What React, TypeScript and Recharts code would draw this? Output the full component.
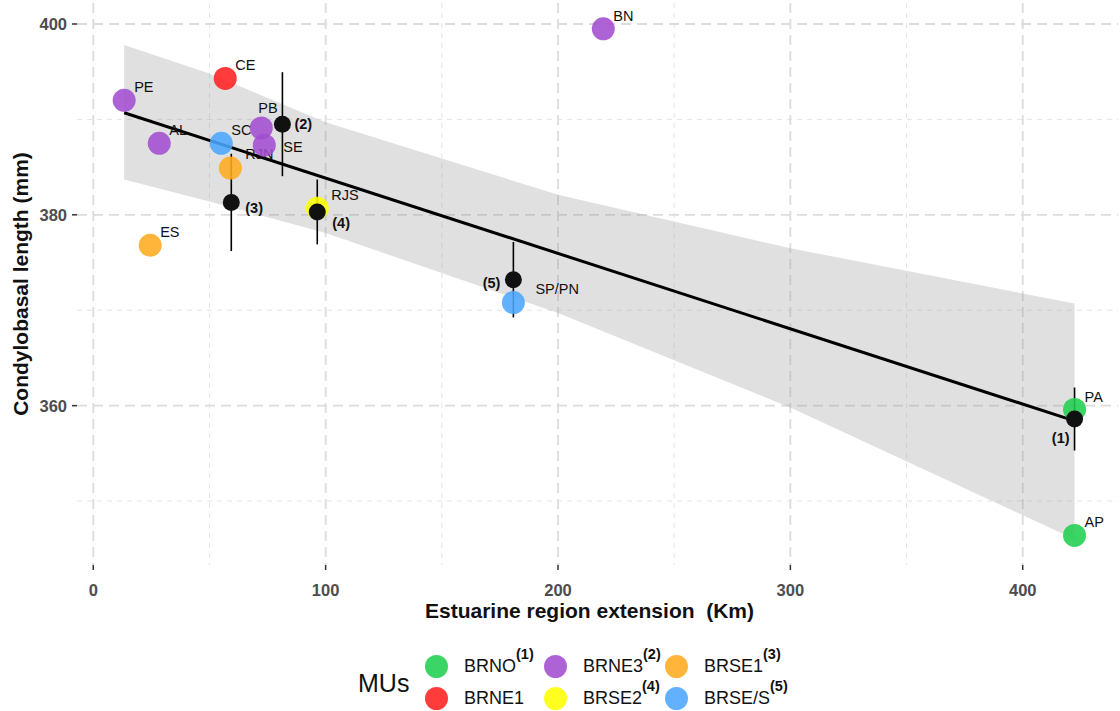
import React from "react";
import {
  ComposedChart,
  Area,
  Line,
  Scatter,
  XAxis,
  YAxis,
  CartesianGrid,
  ErrorBar,
  Label,
} from "recharts";

// sampling sites (colored dots)
const siteNames = ["PE", "CE", "AL", "SC", "RJN", "ES", "PB", "SE", "RJS", "SP/PN", "BN", "PA", "AP"];
const siteKm = [13.3, 56.8, 28.4, 55.1, 59.0, 24.5, 72.3, 73.6, 96.4, 180.8, 219.5, 422.3, 422.3];
const siteLength = [392.0, 394.3, 387.5, 387.5, 384.9, 376.8, 389.1, 387.3, 380.7, 370.8, 399.5, 359.6, 346.4];
const siteMU = ["BRNE3", "BRNE1", "BRNE3", "BRSE/S", "BRSE1", "BRSE1", "BRNE3", "BRNE3", "BRSE2", "BRSE/S", "BRNE3", "BRNO", "BRNO"];

// management units (legend order, column by column)
const muNames = ["BRNO", "BRNE1", "BRNE3", "BRSE2", "BRSE1", "BRSE/S"];
const muNotes = ["(1)", "", "(2)", "(4)", "(3)", "(5)"];
const muColors = ["#1fcf4f", "#ff2020", "#a24dcf", "#ffff00", "#ffaa1f", "#4ca6ff"];

// MU means with sd
const meanLabels = ["(1)", "(2)", "(3)", "(4)", "(5)"];
const meanKm = [422.3, 81.4, 59.4, 96.4, 180.8];
const meanLength = [358.6, 389.5, 381.3, 380.3, 373.2];
const meanSD = [3.3, 5.45, 5.1, 3.4, 3.95];

// linear fit and its confidence band
const fitKm = [13.3, 422.3];
const fitLength = [390.7, 358.4];
const bandKm = [13.3, 50, 100, 200, 300, 422.3];
const bandLow = [383.7, 381.4, 378.1, 369.7, 359.8, 346.0];
const bandHigh = [397.8, 394.8, 389.7, 382.1, 376.5, 370.7];

const xTicks = [0, 100, 200, 300, 400];
const xMinor = [50, 150, 250, 350];
const yTicks = [360, 380, 400];
const yMinor = [350, 370, 390];

const sites = siteNames.map((name, i) => ({
  name,
  x: siteKm[i],
  y: siteLength[i],
  color: muColors[muNames.indexOf(siteMU[i])],
}));
const means = meanLabels.map((name, i) => ({ name, x: meanKm[i], y: meanLength[i], sd: meanSD[i] }));
const fit = fitKm.map((x, i) => ({ x, y: fitLength[i] }));
const band = bandKm.map((x, i) => ({ x, band: [bandLow[i], bandHigh[i]] }));

// label nudges [dx, dy, anchor]
const siteNudge: Record<string, [number, number]> = {
  PB: [-3, -20],
  RJN: [15, -14],
  SE: [19, 2],
  RJS: [14, -13],
  "SP/PN": [22, -14],
};
const meanNudge: Record<string, [number, number, string]> = {
  "(1)": [-5, 19, "end"],
  "(2)": [12, 0, "start"],
  "(3)": [14, 6, "start"],
  "(4)": [15, 11, "start"],
  "(5)": [-13, 3, "end"],
};

const font = "'Liberation Sans', Arial, sans-serif";

const SiteDot = (props: any) => {
  const { cx, cy, payload } = props;
  const [dx, dy] = siteNudge[payload.name] || [10, -13];
  return (
    <g>
      <circle cx={cx} cy={cy} r={11.5} fill={payload.color} fillOpacity={0.88} />
      <text x={cx + dx} y={cy + dy} dy="0.35em" fontSize={14.5} fill="#111" fontFamily={font}>
        {payload.name}
      </text>
    </g>
  );
};

const MeanDot = (props: any) => {
  const { cx, cy, payload } = props;
  const [dx, dy, anchor] = meanNudge[payload.name];
  return (
    <g>
      <circle cx={cx} cy={cy} r={8.5} fill="#111" />
      <text
        x={cx + dx}
        y={cy + dy}
        dy="0.35em"
        textAnchor={anchor as any}
        fontSize={14.5}
        fontWeight="bold"
        fill="#111"
        fontFamily={font}
      >
        {payload.name}
      </text>
    </g>
  );
};

const legendCols = [436, 555, 676];
const legendRows = [666, 698];

export default function App() {
  return (
    <div
      style={{
        position: "absolute",
        left: 0,
        top: 0,
        width: 1120,
        height: 711,
        background: "#fff",
        fontFamily: font,
        overflow: "hidden",
      }}
    >
      <ComposedChart width={1120} height={630} margin={{ top: 3, right: 2, bottom: 0, left: 0 }}>
        <CartesianGrid
          verticalValues={xMinor}
          horizontalValues={yMinor}
          stroke="#e4e4e4"
          strokeWidth={1}
          strokeDasharray="5 5"
        />
        <CartesianGrid
          verticalValues={xTicks}
          horizontalValues={yTicks}
          stroke="#dcdcdc"
          strokeWidth={1.8}
          strokeDasharray="10 6"
        />
        <XAxis
          type="number"
          dataKey="x"
          domain={[-7, 441]}
          ticks={xTicks}
          allowDataOverflow
          axisLine={false}
          tickLine={{ stroke: "#333", strokeWidth: 1.5 }}
          tickSize={5}
          tickMargin={14}
          height={65}
          tick={{ fill: "#4d4d4d", fontSize: 16.5, fontWeight: "bold", fontFamily: font }}
        >
          <Label
            content={(p: any) => {
              const vb = p.viewBox;
              return (
                <text
                  x={vb.x + vb.width / 2 - 8}
                  y={vb.y + 46}
                  dy="0.35em"
                  textAnchor="middle"
                  fontSize={21}
                  fontWeight="bold"
                  fill="#111"
                  fontFamily={font}
                >
                  {"Estuarine region extension\u00a0\u00a0(Km)"}
                </text>
              );
            }}
          />
        </XAxis>
        <YAxis
          type="number"
          domain={[343.3, 402.2]}
          ticks={yTicks}
          allowDataOverflow
          width={77}
          axisLine={false}
          tickLine={{ stroke: "#333", strokeWidth: 1.5 }}
          tickSize={5}
          tickMargin={5}
          tick={{ fill: "#4d4d4d", fontSize: 16.5, fontWeight: "bold", fontFamily: font }}
        >
          <Label
            content={(p: any) => {
              const vb = p.viewBox;
              const x = vb.x + 21;
              const y = vb.y + vb.height / 2;
              return (
                <text
                  x={x}
                  y={y}
                  dy="0.35em"
                  transform={`rotate(-90 ${x} ${y})`}
                  textAnchor="middle"
                  fontSize={21}
                  fontWeight="bold"
                  fill="#111"
                  fontFamily={font}
                >
                  Condylobasal length (mm)
                </text>
              );
            }}
          />
        </YAxis>
        <Area
          data={band}
          dataKey="band"
          type="linear"
          stroke="none"
          fill="#999999"
          fillOpacity={0.3}
          isAnimationActive={false}
        />
        <Scatter data={sites} dataKey="y" shape={SiteDot} isAnimationActive={false} />
        <Line
          data={fit}
          dataKey="y"
          type="linear"
          stroke="#000"
          strokeWidth={3}
          dot={false}
          activeDot={false}
          isAnimationActive={false}
        />
        <Scatter data={means} dataKey="y" shape={MeanDot} isAnimationActive={false}>
          <ErrorBar dataKey="sd" direction="y" width={0} stroke="#000" strokeWidth={1.6} isAnimationActive={false} />
        </Scatter>
      </ComposedChart>

      {/* legend */}
      <div
        style={{
          position: "absolute",
          left: 358,
          top: 683,
          transform: "translateY(-50%)",
          fontSize: 25,
          color: "#111",
          lineHeight: 1,
        }}
      >
        MUs
      </div>
      {muNames.map((name, i) => {
        const cx = legendCols[Math.floor(i / 2)];
        const cy = legendRows[i % 2];
        return (
          <React.Fragment key={name}>
            <div
              style={{
                position: "absolute",
                left: cx - 11.5,
                top: cy - 11.5,
                width: 23,
                height: 23,
                borderRadius: "50%",
                background: muColors[i],
                opacity: 0.88,
              }}
            />
            <div
              style={{
                position: "absolute",
                left: cx + 28,
                top: cy - 11,
                height: 22,
                lineHeight: "22px",
                fontSize: 18,
                color: "#111",
                whiteSpace: "nowrap",
              }}
            >
              {name}
              {muNotes[i] && (
                <span style={{ fontSize: 14.5, fontWeight: "bold", position: "relative", top: -13 }}>
                  {muNotes[i]}
                </span>
              )}
            </div>
          </React.Fragment>
        );
      })}
    </div>
  );
}
